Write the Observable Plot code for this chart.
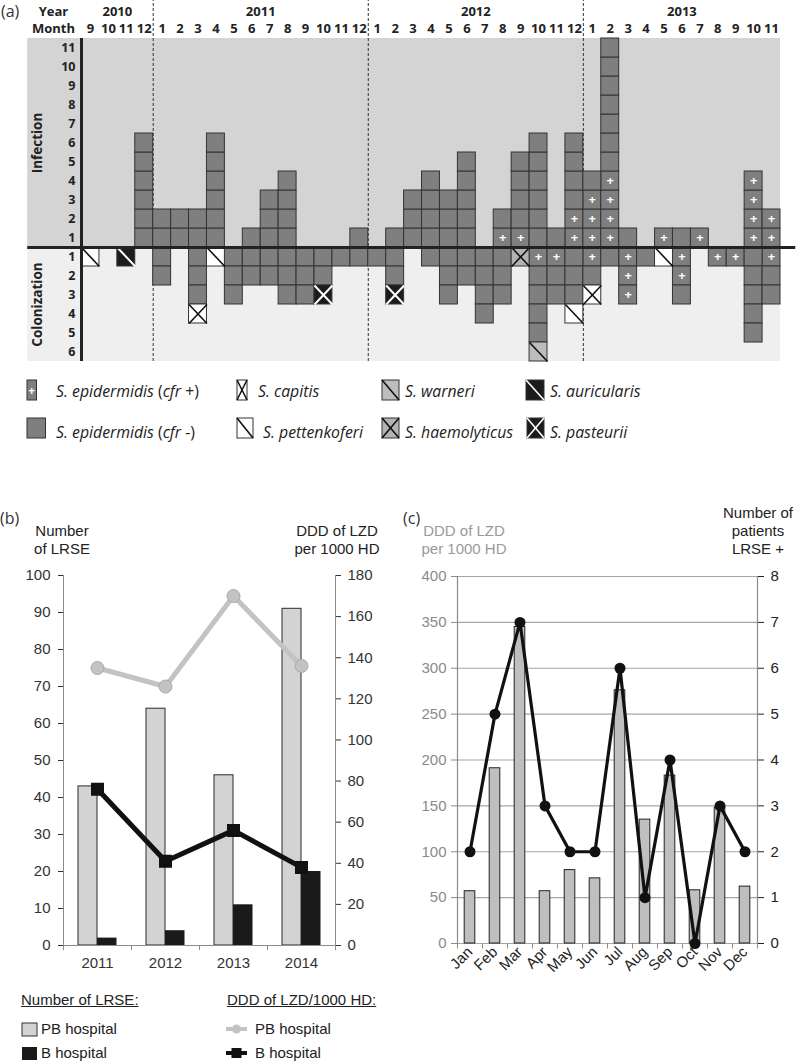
<!DOCTYPE html>
<html><head><meta charset="utf-8">
<script src="https://cdn.jsdelivr.net/npm/d3@7"></script>
<script src="https://cdn.jsdelivr.net/npm/@observablehq/plot@0.6"></script>
<style>
body{margin:0;background:#fff;}
#root{position:relative;width:796px;height:1061px;overflow:hidden;font-family:"Liberation Sans",Arial,sans-serif;color:#222;}
.t{position:absolute;font-size:15px;line-height:18px;white-space:nowrap;}
.c{text-align:center;transform:translateX(-50%);}
.pl{position:absolute;font-family:"Open Sans",sans-serif;font-size:16px;line-height:20px;color:#333;}
svg{overflow:visible;}
</style></head><body><div id="root"></div>
<script>
// ---------------- Panel (a) data ----------------
const monthLabels = [9,10,11,12, 1,2,3,4,5,6,7,8,9,10,11,12, 1,2,3,4,5,6,7,8,9,10,11,12, 1,2,3,4,5,6,7,8,9,10,11];
const colYear = [2010,2010,2010,2010,
  2011,2011,2011,2011,2011,2011,2011,2011,2011,2011,2011,2011,
  2012,2012,2012,2012,2012,2012,2012,2012,2012,2012,2012,2012,
  2013,2013,2013,2013,2013,2013,2013,2013,2013,2013,2013];
const infectionCount = [0,0,0,6, 2,2,2,6,0,1,3,4,0,0,0,1, 0,1,3,4,3,5,0,2,5,6,1,6, 4,11,1,0,1,1,1,0,0,4,2];
const infectionCfrPlus = [0,0,0,0, 0,0,0,0,0,0,0,0,0,0,0,0, 0,0,0,0,0,0,0,1,1,0,0,2, 3,4,0,0,1,0,1,0,0,4,2];
// colonization cells per month, from row 1 downward
// n = S. epidermidis cfr-, p = cfr+, pe = pettenkoferi, ca = capitis, wa = warneri, ha = haemolyticus, au = auricularis, pa = pasteurii
const colonization = [
  ["pe"], [], ["au"], [],
  ["n","n"], [], ["n","n","n","ca"], ["pe"], ["n","n","n"], ["n","n"], ["n","n"], ["n","n","n"], ["n","n","n"], ["n","n","pa"], ["n"], ["n"],
  ["n"], ["n","n","pa"], [], ["n"], ["n","n","n"], ["n","n"], ["n","n","n","n"], ["n","n","n"], ["ha"], ["p","n","n","n","n","wa"], ["p","n","n"], ["n","n","n","pe"],
  ["p","n","ca"], ["n"], ["p","p","p"], ["n"], ["pe"], ["p","p","n"], [], ["p"], ["p"], ["n","n","n","n","n"], ["p","n","n"]
];
const infectionRows = [1,2,3,4,5,6,7,8,9,10,11];
const colonizationRows = [1,2,3,4,5,6];

// ---------------- Panel (b) data ----------------
const yearsB = ["2011","2012","2013","2014"];
const lrsePB = [43,64,46,91];
const lrseB = [2,4,11,20];
const dddPB = [135,126,170,136];
const dddB = [76,41,56,38];
const leftTicksB = [0,10,20,30,40,50,60,70,80,90,100];
const rightTicksB = [0,20,40,60,80,100,120,140,160,180];

// ---------------- Panel (c) data ----------------
const monthsC = ["Jan","Feb","Mar","Apr","May","Jun","Jul","Aug","Sep","Oct","Nov","Dec"];
const dddMonthly = [57,191,345,57,80,71,276,135,183,58,148,62];
const patientsMonthly = [2,5,7,3,2,2,6,1,4,0,3,2];
const leftTicksC = [0,50,100,150,200,250,300,350,400];
const rightTicksC = [0,1,2,3,4,5,6,7,8];

const root = document.getElementById("root");
function place(el, left, top){ el.style.position="absolute"; el.style.left=left+"px"; el.style.top=top+"px"; root.appendChild(el); return el; }
function html(s, left, top, cls){ const d=document.createElement("div"); d.className=cls||"t"; d.innerHTML=s; return place(d,left,top); }

// ---------------- Panel (a) ----------------
const cells = [];
monthLabels.forEach((m,i)=>{
  for(let r=1;r<=infectionCount[i];r++) cells.push({x1:i,x2:i+1,y1:r-1,y2:r,type:r<=infectionCfrPlus[i]?"p":"n"});
  colonization[i].forEach((t,j)=>cells.push({x1:i,x2:i+1,y1:-(j+1),y2:-j,type:t}));
});
const fills = {p:"#7f7f7f", n:"#7f7f7f", pe:"#ffffff", ca:"#ffffff", wa:"#bdbdbd", ha:"#b3b3b3", au:"#1c1c1c", pa:"#1c1c1c"};
const cellMarks = Object.keys(fills).map(k => Plot.rect(cells.filter(d=>d.type===k), {x1:"x1",x2:"x2",y1:"y1",y2:"y2",fill:fills[k],stroke:"#333",strokeWidth:1}));
const darkDiag = cells.filter(d=>["pe","ca","wa","ha"].includes(d.type));
const lightDiag = cells.filter(d=>["au","pa"].includes(d.type));
const darkAnti = cells.filter(d=>["ca","ha"].includes(d.type));
const lightAnti = cells.filter(d=>["pa"].includes(d.type));
const yearBounds = colYear.map((y,i)=>i).filter(i=>i>0 && colYear[i]!==colYear[i-1]);
const yearCenters = Array.from(d3.rollup(colYear.map((y,i)=>({y,i})), v=>d3.mean(v,d=>d.i)+0.5, d=>d.y), ([y,c])=>({y:String(y),c}));

const plotA = Plot.plot({
  width:796, height:362, marginLeft:81, marginRight:16, marginTop:38, marginBottom:1,
  x:{type:"linear", domain:[0,39], axis:null},
  y:{type:"linear", domain:[-6,11], axis:null},
  style:{fontFamily:"'Open Sans',sans-serif", fontSize:"13px", fontWeight:"bold", color:"#222", background:"transparent", overflow:"visible"},
  marks:[
    Plot.rect([{a:-3,b:39,c:0,d:11}],{x1:"a",x2:"b",y1:"c",y2:"d",fill:"#d4d4d4"}),
    Plot.rect([{a:-3,b:39,c:-6,d:0}],{x1:"a",x2:"b",y1:"c",y2:"d",fill:"#efefef"}),
    Plot.ruleX(yearBounds,{y1:-6,y2:13,stroke:"#333",strokeWidth:1,strokeDasharray:"3,2"}),
    ...cellMarks,
    Plot.text(cells.filter(d=>d.type==="p"),{x:d=>d.x1+0.5,y:d=>(d.y1+d.y2)/2,text:()=>"+",fill:"#fff",fontSize:13,fontWeight:"bold"}),
    Plot.link(darkDiag,{x1:"x1",y1:"y2",x2:"x2",y2:"y1",stroke:"#111",strokeWidth:1.6}),
    Plot.link(darkAnti,{x1:"x1",y1:"y1",x2:"x2",y2:"y2",stroke:"#111",strokeWidth:1.6}),
    Plot.link(lightDiag,{x1:"x1",y1:"y2",x2:"x2",y2:"y1",stroke:"#fff",strokeWidth:2}),
    Plot.link(lightAnti,{x1:"x1",y1:"y1",x2:"x2",y2:"y2",stroke:"#fff",strokeWidth:2}),
    Plot.ruleY([0],{x1:-3,x2:39.85,stroke:"#222",strokeWidth:3}),
    Plot.ruleX([0],{y1:-6,y2:11,stroke:"#222",strokeWidth:3}),
    Plot.text(monthLabels,{x:(d,i)=>i+0.5,frameAnchor:"top",dy:-10,lineAnchor:"middle",text:d=>String(d),textAnchor:"middle"}),
    Plot.text(yearCenters,{x:"c",frameAnchor:"top",dy:-27,lineAnchor:"middle",text:"y",textAnchor:"middle"}),
    Plot.text(["Year"],{frameAnchor:"top-left",dx:-28,dy:-27,lineAnchor:"middle",text:d=>d,textAnchor:"middle"}),
    Plot.text(["Month"],{frameAnchor:"top-left",dx:-28,dy:-10,lineAnchor:"middle",text:d=>d,textAnchor:"middle"}),
    Plot.text(infectionRows,{x:0,dx:-6,y:d=>d-0.5,text:d=>String(d),textAnchor:"end",fontSize:12.5}),
    Plot.text(colonizationRows,{x:0,dx:-6,y:d=>-d+0.5,text:d=>String(d),textAnchor:"end",fontSize:12.5}),
    Plot.text(["Infection"],{frameAnchor:"left",dx:-44,y:5.5,text:d=>d,rotate:-90,textAnchor:"middle",fontSize:13.5}),
    Plot.text(["Colonization"],{frameAnchor:"left",dx:-44,y:-3,text:d=>d,rotate:-90,textAnchor:"middle",fontSize:13.5})
  ]
});
place(plotA,0,0);
html("(a)",1,1,"pl");

// legend (a)
const NS="http://www.w3.org/2000/svg";
const legA = document.createElementNS(NS,"svg");
legA.setAttribute("width",796); legA.setAttribute("height",80);
const li = (x,y,w,fill,diag,anti,plus,lc)=>{
  let s=`<rect x="${x}" y="${y}" width="${w}" height="20" fill="${fill}" stroke="#333" stroke-width="1"/>`;
  if(diag) s+=`<line x1="${x}" y1="${y}" x2="${x+w}" y2="${y+20}" stroke="${lc}" stroke-width="1.6"/>`;
  if(anti) s+=`<line x1="${x}" y1="${y+20}" x2="${x+w}" y2="${y}" stroke="${lc}" stroke-width="1.6"/>`;
  if(plus) s+=`<text x="${x+w/2}" y="${y+14.5}" text-anchor="middle" fill="#fff" font-family="Open Sans" font-weight="bold" font-size="12">+</text>`;
  return s;
};
const lt = (x,y,s)=>`<text x="${x}" y="${y}" font-family="Open Sans" font-style="italic" font-size="15.8" fill="#222">${s}</text>`;
legA.innerHTML =
  li(27,10,9.5,"#7f7f7f",0,0,1) + lt(56,27,'S. epidermidis <tspan font-style="normal">(</tspan>cfr<tspan font-style="normal"> +)</tspan>') +
  li(27,48,18.5,"#7f7f7f",0,0,0) + lt(56,68,'S. epidermidis <tspan font-style="normal">(</tspan>cfr<tspan font-style="normal"> -)</tspan>') +
  li(237,10,10,"#fff",1,1,0,"#111") + lt(258,27,"S. capitis") +
  li(237,48,16,"#fff",1,0,0,"#111") + lt(263,68,"S. pettenkoferi") +
  li(382,10,17,"#bdbdbd",1,0,0,"#111") + lt(405,27,"S. warneri") +
  li(382,48,17,"#b3b3b3",1,1,0,"#111") + lt(405,68,"S. haemolyticus") +
  li(526,10,18,"#1c1c1c",1,0,0,"#fff") + lt(550,27,"S. auricularis") +
  li(527,48,17,"#1c1c1c",1,1,0,"#fff") + lt(550,68,"S. pasteurii");
place(legA,0,370);

// ---------------- Panel (b) ----------------
const ratioB = 100/180;
const dataB = yearsB.map((y,i)=>({year:y,pb:lrsePB[i],b:lrseB[i],dpb:dddPB[i]*ratioB,db:dddB[i]*ratioB}));
const axisGrey = "#8c8c8c";
const plotB = Plot.plot({
  width:400, height:420, marginLeft:63, marginRight:65, marginTop:15, marginBottom:35,
  x:{type:"band", domain:yearsB, padding:0, axis:null},
  y:{domain:[0,100], axis:null},
  style:{fontFamily:"'Liberation Sans',Arial,sans-serif", fontSize:"15px", color:"#333", background:"transparent", overflow:"visible"},
  marks:[
    Plot.barY(dataB,{x:"year",y:"pb",insetLeft:15,insetRight:34,fill:"#d3d3d3",stroke:"#2a2a2a",strokeWidth:1}),
    Plot.barY(dataB,{x:"year",y:"b",insetLeft:34,insetRight:14.5,fill:"#1a1a1a"}),
    Plot.ruleY([0],{stroke:axisGrey}),
    Plot.ruleX([yearsB[0]],{dx:-34,stroke:axisGrey}),
    Plot.ruleX([yearsB[yearsB.length-1]],{dx:34,stroke:axisGrey}),
    Plot.ruleX(yearsB,{dx:-34,y1:0,y2:-1.4,stroke:axisGrey}),
    Plot.ruleX([yearsB[yearsB.length-1]],{dx:34,y1:0,y2:-1.4,stroke:axisGrey}),
    Plot.axisY(leftTicksB,{anchor:"left",tickSize:5,tickPadding:8,color:"#333",label:null}),
    Plot.axisY(rightTicksB.map(t=>t*ratioB),{anchor:"right",tickSize:5,tickPadding:7,color:"#333",label:null,tickFormat:d=>String(Math.round(d/ratioB))}),
    Plot.axisX({tickSize:0,tickPadding:12,color:"#333",label:null}),
    Plot.line(dataB,{x:"year",y:"dpb",stroke:"#c3c3c3",strokeWidth:5}),
    Plot.dot(dataB,{x:"year",y:"dpb",r:6.5,fill:"#c3c3c3",stroke:"#aaaaaa",strokeWidth:1}),
    Plot.line(dataB,{x:"year",y:"db",stroke:"#111",strokeWidth:5}),
    Plot.dot(dataB,{x:"year",y:"db",r:6.5,symbol:"square",fill:"#111",stroke:"#111"})
  ]
});
place(plotB,0,560);
html("(b)",0,508,"pl");
html("Number<br>of LRSE",62,522,"t c");
html("DDD of LZD<br>per 1000 HD",337,522,"t c");

// legend (b)
html('<span style="text-decoration:underline">Number of LRSE:</span>',21,991);
html("PB hospital",41,1020);
html("B hospital",41,1044);
html('<span style="text-decoration:underline">DDD of LZD/1000 HD:</span>',227,991);
html("PB hospital",255,1020);
html("B hospital",255,1044);
const legB = document.createElementNS(NS,"svg");
legB.setAttribute("width",300); legB.setAttribute("height",60);
legB.innerHTML =
  `<rect x="22" y="3" width="15" height="13" fill="#d3d3d3" stroke="#333"/>`+
  `<rect x="22" y="27" width="15" height="13" fill="#1a1a1a"/>`+
  `<line x1="226" y1="9" x2="247" y2="9" stroke="#c3c3c3" stroke-width="4"/><circle cx="236.5" cy="9" r="4.5" fill="#c3c3c3"/>`+
  `<line x1="226" y1="33" x2="247" y2="33" stroke="#111" stroke-width="4"/><rect x="231.5" y="28" width="10" height="10" fill="#111"/>`;
place(legB,0,1020);

// ---------------- Panel (c) ----------------
const ratioC = 50;
const dataC = monthsC.map((m,i)=>({m,ddd:dddMonthly[i],pt:patientsMonthly[i]*ratioC}));
const plotC = Plot.plot({
  width:396, height:440, marginLeft:57, marginRight:39, marginTop:16, marginBottom:57,
  x:{type:"band", domain:monthsC, padding:0, axis:null},
  y:{domain:[0,400], axis:null},
  style:{fontFamily:"'Liberation Sans',Arial,sans-serif", fontSize:"15px", color:"#222", background:"transparent", overflow:"visible"},
  marks:[
    Plot.ruleY(leftTicksC,{stroke:"#a6a6a6",strokeWidth:1.2}),
    Plot.ruleX([monthsC[0]],{dx:-12.5,stroke:axisGrey,strokeWidth:1.2}),
    Plot.ruleX([monthsC[monthsC.length-1]],{dx:12.5,stroke:axisGrey,strokeWidth:1.2}),
    Plot.ruleX(monthsC,{dx:-12.5,y1:0,y2:-6,stroke:axisGrey}),
    Plot.ruleX([monthsC[monthsC.length-1]],{dx:12.5,y1:0,y2:-6,stroke:axisGrey}),
    Plot.barY(dataC,{x:"m",y:"ddd",insetLeft:7.2,insetRight:7.2,fill:"#bfbfbf",stroke:"#222",strokeWidth:1}),
    Plot.axisY(leftTicksC,{anchor:"left",tickSize:6,tickPadding:5,color:"#8a8a8a",label:null}),
    Plot.axisY(rightTicksC.map(t=>t*ratioC),{anchor:"right",tickSize:6,tickPadding:7,color:"#222",label:null,tickFormat:d=>String(Math.round(d/ratioC))}),
    Plot.axisX({tickSize:0,tickPadding:6,tickRotate:-45,color:"#222",label:null}),
    Plot.line(dataC,{x:"m",y:"pt",stroke:"#111",strokeWidth:3.2}),
    Plot.dot(dataC,{x:"m",y:"pt",r:5.5,fill:"#111"})
  ]
});
place(plotC,400,560);
html("(c)",403,508,"pl");
html('<span style="color:#9a9a9a">DDD of LZD<br>per 1000 HD</span>',464,522,"t c");
html("Number of<br>patients<br>LRSE +",758,504,"t c");
</script></body></html>
